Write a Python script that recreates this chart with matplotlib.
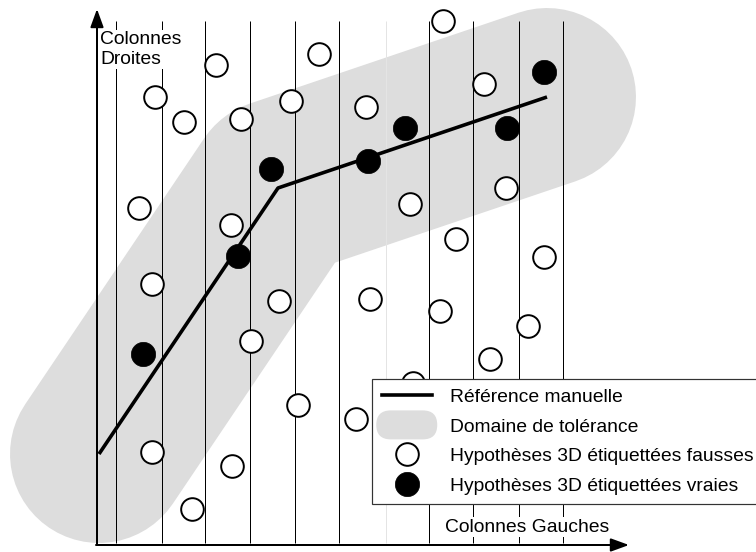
import matplotlib
matplotlib.use('Agg')
import matplotlib.pyplot as plt
from matplotlib.lines import Line2D
from matplotlib.patches import Patch, FancyBboxPatch
from matplotlib.legend_handler import HandlerPatch

# schema en coordonnees image (pixels), y vers le bas
W, H = 756, 552
PX = 72 / 100  # points par pixel a dpi=100

# colonnes (traits verticaux)
col_x = [116, 162, 205, 250, 295, 339, 429, 473, 519, 563]
col_faint_x = [386]
col_top, col_bottom = 21, 543

# reference manuelle (polyligne) = axe du domaine de tolerance
ref_x = [99, 278, 547]
ref_y = [454, 188, 97]

# hypotheses 3D etiquetees fausses
false_x = [155, 184, 216, 241, 291, 319, 366, 139, 231, 152, 443, 484, 410, 506,
           456, 544, 279, 251, 370, 298, 356, 152, 232, 192, 440, 528, 490, 413]
false_y = [97, 122, 65, 119, 101, 54, 107, 208, 225, 284, 21, 84, 204, 188,
           239, 257, 301, 341, 299, 405, 419, 452, 466, 509, 311, 326, 359, 383]

# hypotheses 3D etiquetees vraies
true_x = [143, 238, 271, 368, 405, 507, 544]
true_y = [354, 256, 169, 161, 128, 128, 72]

labels = ['Référence manuelle', 'Domaine de tolérance',
          'Hypothèses 3D étiquettées fausses', 'Hypothèses 3D étiquettées vraies']

plt.rcParams['font.family'] = ['Liberation Sans', 'DejaVu Sans']
FS = 13.9
GREY = '#dddddd'

fig = plt.figure(figsize=(W / 100, H / 100), dpi=100)
ax = fig.add_axes([0, 0, 1, 1])
ax.set_xlim(0, W)
ax.set_ylim(H, 0)
ax.axis('off')

# domaine de tolerance : trait epais a bouts arrondis
ax.plot(ref_x, ref_y, color=GREY, lw=178 * PX, solid_capstyle='round',
        solid_joinstyle='round', zorder=1)

ax.vlines(col_x, col_top, col_bottom, color='black', lw=1.0 * PX, zorder=2)
ax.vlines(col_faint_x, col_top, col_bottom, color='#e4e4e4', lw=1.0 * PX, zorder=2)

ax.plot(ref_x, ref_y, color='black', lw=3.6 * PX, solid_capstyle='butt', zorder=3)

ax.plot(false_x, false_y, 'o', ms=16.3, mfc='white', mec='black', mew=1.4, ls='none', zorder=4)
ax.plot(true_x, true_y, 'o', ms=17.5, mfc='black', mec='black', mew=0.5, ls='none', zorder=4)

# axes fleches
arrow = dict(arrowstyle='-|>,head_length=11,head_width=4', mutation_scale=1,
             lw=2.0 * PX, color='black', shrinkA=0, shrinkB=0)
ax.annotate('', xy=(97, 9), xytext=(97, 545), arrowprops=arrow, zorder=7)
ax.annotate('', xy=(629, 545), xytext=(96, 545), arrowprops=arrow, zorder=7)

ax.text(100, 31, 'Colonnes\nDroites', fontsize=FS, ha='left', va='top',
        linespacing=1.22, zorder=5,
        bbox=dict(facecolor='white', edgecolor='none', pad=1))
ax.text(445, 527, 'Colonnes Gauches', fontsize=FS, ha='left', va='center', zorder=5,
        bbox=dict(facecolor='white', edgecolor='none', pad=1))


def pill(legend, orig_handle, xdescent, ydescent, width, height, fontsize):
    w, h = 61 * PX, 29 * PX
    r = h / 2
    cx = width / 2 - xdescent
    cy = height / 2 - ydescent
    return FancyBboxPatch((cx - w / 2 + r, cy), w - 2 * r, 0,
                          boxstyle=f'round,pad={r}')


handles = [
    Line2D([], [], color='black', lw=3.6 * PX),
    Patch(facecolor=GREY, edgecolor='none'),
    Line2D([], [], marker='o', ms=16.3, mfc='white', mec='black', mew=1.4, ls='none'),
    Line2D([], [], marker='o', ms=17.5, mfc='black', mec='black', mew=0.5, ls='none'),
]
leg = ax.legend(handles, labels, loc='upper left',
                bbox_to_anchor=(372 / W, 1 - 379 / H), borderaxespad=0,
                fontsize=FS, frameon=True, fancybox=False, framealpha=1,
                edgecolor='#333333', borderpad=0.5, handlelength=2.6,
                handletextpad=0.95, labelspacing=0.62,
                handler_map={Patch: HandlerPatch(patch_func=pill)})
leg.get_frame().set_linewidth(1.2 * PX)
leg.set_zorder(6)

fig.savefig('out.png', dpi=100)
